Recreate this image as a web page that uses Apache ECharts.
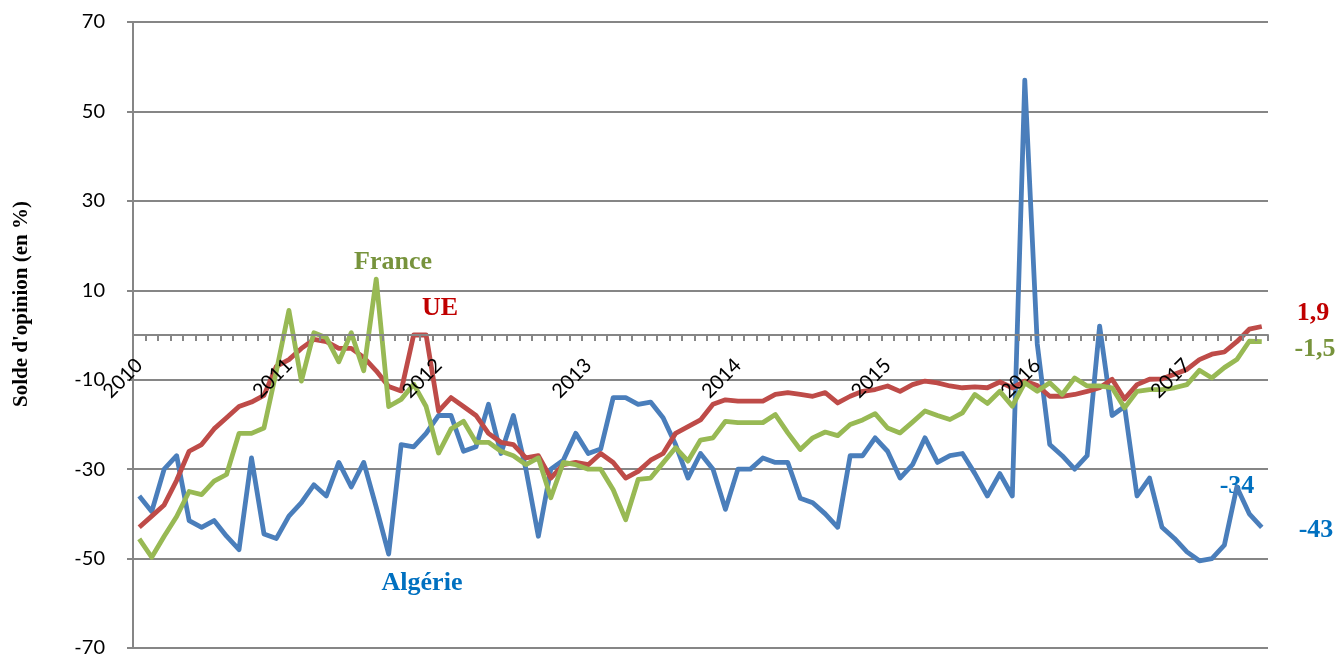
<!DOCTYPE html>
<html>
<head>
<meta charset="utf-8">
<script src="https://cdn.jsdelivr.net/npm/echarts@6/dist/echarts.min.js"></script>
<style>
  html, body { margin: 0; padding: 0; background: #fff; }
  #chart { width: 1344px; height: 658px; }
</style>
</head>
<body>
<div id="chart"></div>
<script>
// monthly series, Jan 2010 -> Jul 2017
const years = ['2010', '2011', '2012', '2013', '2014', '2015', '2016', '2017']
const lastYearMonths = 7

const algerie = [
  -36, -39.5, -30, -27, -41.5, -43, -41.5, -45, -48, -27.5, -44.5, -45.5,
  -40.5, -37.5, -33.5, -36, -28.5, -34, -28.5, -38.5, -49, -24.5, -25, -22,
  -18, -18, -26, -25, -15.5, -26.5, -18, -30, -45, -30, -28, -22,
  -26.5, -25.5, -14, -14, -15.5, -15, -18.5, -24.5, -32, -26.5, -30, -39,
  -30, -30, -27.5, -28.5, -28.5, -36.5, -37.5, -40, -43, -27, -27, -23,
  -26, -32, -29, -23, -28.5, -27, -26.5, -31, -36, -31, -36, 57,
  -2, -24.5, -27, -30, -27, 2, -18, -16, -36, -32, -43, -45.5,
  -48.5, -50.5, -50, -47, -34, -40, -43
]
const ue = [
  -43, -40.5, -38, -32.5, -26, -24.5, -21, -18.5, -16, -15, -13.5, -7,
  -5.5, -3, -1, -1.5, -3, -3, -5, -8, -11.5, -12.5, 0, 0,
  -17, -14, -16, -18, -22, -24, -24.5, -27.5, -27, -32, -29, -28.5,
  -29, -26.5, -28.5, -32, -30.5, -28, -26.5, -22, -20.5, -19, -15.5, -14.5,
  -14.8, -14.8, -14.8, -13.3, -12.9, -13.3, -13.7, -12.9, -15.2, -13.7, -12.6, -12.2,
  -11.4, -12.6, -11.1, -10.3, -10.7, -11.4, -11.8, -11.6, -11.8, -10.5, -11.8, -10.3,
  -11.3, -13.7, -13.7, -13.3, -12.6, -11.8, -9.9, -14.3, -11.1, -9.9, -9.8, -8.8,
  -7.7, -5.5, -4.3, -3.8, -1.5, 1.3, 1.9
]
const france = [
  -45.6, -49.7, -45, -40.6, -35, -35.7, -32.7, -31.2, -22, -22, -20.8, -8,
  5.5, -10.3, 0.5, -0.6, -6, 0.5, -8, 12.5, -16, -14.4, -11, -16,
  -26.4, -21, -19.3, -24, -24, -26, -27, -29, -27.5, -36.4, -28.5, -29,
  -30, -30, -34.6, -41.3, -32.3, -32, -28.6, -25.2, -28.2, -23.5, -23, -19.3,
  -19.6, -19.6, -19.6, -17.8, -21.9, -25.6, -23, -21.7, -22.5, -20, -19, -17.6,
  -20.8, -21.9, -19.5, -17, -18, -18.9, -17.4, -13.3, -15.3, -12.6, -15.9, -10.7,
  -12.6, -10.7, -13.3, -9.6, -11.4, -11.4, -11.8, -16.3, -12.6, -12.2, -12.2, -11.8,
  -11.1, -7.9, -9.6, -7.3, -5.5, -1.4, -1.5
]

// y axis shown from -70 to 70 step 20
const yMin = -70
const yMax = 70
const yStep = 20

const categories = []
years.forEach((y, i) => {
  const n = i === years.length - 1 ? lastYearMonths : 12
  for (let m = 1; m <= n; m++) categories.push(y + '-' + String(m).padStart(2, '0'))
})

const W = 1344, H = 658
const gTop = 22, gBottom = 10, gLeft = 133, gRight = 76
// x axis sits on the zero line: shift it up from the bottom edge
const plotH = H - gTop - gBottom
const zeroShift = plotH * (0 - yMin) / (yMax - yMin)

const gridCol = '#868686'
const serif = '"Liberation Serif", "DejaVu Serif", serif'

const option = {
  animation: false,
  backgroundColor: '#fff',
  grid: { left: gLeft, right: gRight, top: gTop, bottom: gBottom, containLabel: false, outerBoundsMode: 'none' },
  xAxis: {
    type: 'category',
    data: categories,
    boundaryGap: true,
    offset: -zeroShift,
    z: 5,
    axisLine: { onZero: false, lineStyle: { color: gridCol, width: 2 } },
    axisTick: { show: true, interval: 0, length: 6, lineStyle: { color: gridCol, width: 2 } },
    axisLabel: {
      interval: 0,
      rotate: 45,
      margin: 27,
      color: '#000',
      fontFamily: 'Lato',
      fontSize: 20,
      hideOverlap: false,
      formatter: (v) => v.endsWith('-01') ? v.slice(0, 4) : ''
    },
    splitLine: { show: false }
  },
  yAxis: [
    {
      // data axis, hidden
      type: 'value', min: yMin, max: yMax, position: 'right', show: false
    },
    {
      // display axis for grid lines and labels (offset so ticks fall on -70..70)
      type: 'value', min: 0, max: yMax - yMin, interval: yStep, position: 'left',
      axisLine: { show: true, lineStyle: { color: gridCol, width: 2 } },
      axisTick: { show: true, length: 6, lineStyle: { color: gridCol, width: 2 } },
      axisLabel: {
        margin: 28, color: '#000', fontFamily: 'Lato', fontSize: 20,
        formatter: (v) => String(v + yMin)
      },
      splitLine: { show: true, lineStyle: { color: gridCol, width: 2 } }
    }
  ],
  series: [
    { name: 'Algérie', type: 'line', yAxisIndex: 0, data: algerie, showSymbol: false,
      lineStyle: { color: '#4a7ebb', width: 4.8, join: 'round' }, itemStyle: { color: '#4a7ebb' } },
    { name: 'UE', type: 'line', yAxisIndex: 0, data: ue, showSymbol: false,
      lineStyle: { color: '#be4b48', width: 4.8, join: 'round' }, itemStyle: { color: '#be4b48' } },
    { name: 'France', type: 'line', yAxisIndex: 0, data: france, showSymbol: false,
      lineStyle: { color: '#98b954', width: 4.8, join: 'round' }, itemStyle: { color: '#98b954' } }
  ],
  graphic: [
    { type: 'text', x: 22, y: 304, rotation: Math.PI / 2,
      style: { text: "Solde d'opinion (en %)", font: 'bold 21px ' + serif, fill: '#000', align: 'center', verticalAlign: 'middle' } },
    { type: 'text', x: 393, y: 262, style: { text: 'France', font: 'bold 26px ' + serif, fill: '#77933c', align: 'center', verticalAlign: 'middle' } },
    { type: 'text', x: 440, y: 308, style: { text: 'UE', font: 'bold 26px ' + serif, fill: '#c00000', align: 'center', verticalAlign: 'middle' } },
    { type: 'text', x: 422, y: 583, style: { text: 'Algérie', font: 'bold 26px ' + serif, fill: '#0070c0', align: 'center', verticalAlign: 'middle' } },
    { type: 'text', x: 1313, y: 313, style: { text: '1,9', font: 'bold 26px ' + serif, fill: '#c00000', align: 'center', verticalAlign: 'middle' } },
    { type: 'text', x: 1315, y: 349, style: { text: '-1,5', font: 'bold 26px ' + serif, fill: '#77933c', align: 'center', verticalAlign: 'middle' } },
    { type: 'text', x: 1237, y: 486, style: { text: '-34', font: 'bold 26px ' + serif, fill: '#0070c0', align: 'center', verticalAlign: 'middle' } },
    { type: 'text', x: 1316, y: 530, style: { text: '-43', font: 'bold 26px ' + serif, fill: '#0070c0', align: 'center', verticalAlign: 'middle' } }
  ]
}

window.addEventListener('load', () => {
  const chart = echarts.init(document.getElementById('chart'))
  chart.setOption(option)
})
</script>
</body>
</html>
